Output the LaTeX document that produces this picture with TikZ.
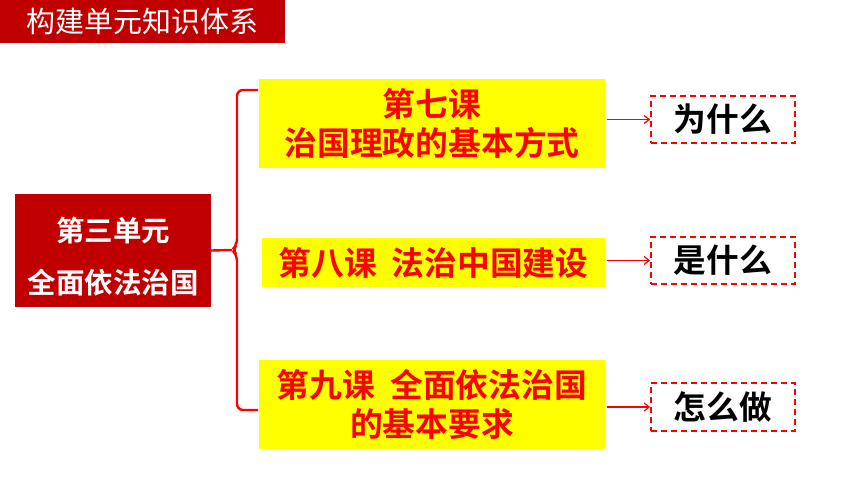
\documentclass[tikz,border=0pt]{standalone}
\usepackage{fontspec}
\usepackage{xcolor}
\usepackage{tikz}
\usetikzlibrary{arrows.meta}
\newfontfamily\cjk{Noto Sans CJK SC}[BoldFont={Noto Sans CJK SC Bold}]
\definecolor{bg}{HTML}{FFFFFF}
\definecolor{darkred}{HTML}{C00000}
\definecolor{hot}{HTML}{FF0000}
\definecolor{hilite}{HTML}{FFFF00}
\tikzset{
  titlebox/.style={fill=darkred, text=white, minimum width=285pt, minimum height=43pt, inner sep=0pt, font=\cjk\fontsize{29}{32}\selectfont},
  unitbox/.style={fill=darkred, text=white, minimum width=196pt, minimum height=113pt, inner sep=0pt, font=\cjk\bfseries\fontsize{28.5}{52}\selectfont},
  lessonbox/.style={fill=hilite, text=hot, minimum width=346pt, inner sep=0pt, align=center, font=\cjk\bfseries\fontsize{32.8}{39}\selectfont},
  askbox/.style={draw=hot, dash pattern=on 6pt off 4pt, line width=1.8pt, minimum width=144pt, minimum height=47pt, inner sep=0pt, font=\cjk\bfseries\fontsize{32.7}{34}\selectfont},
  brace/.style={draw=hot, line width=2.4pt, rounded corners=6pt},
  link/.style={draw=hot, line width=1.2pt, -{Straight Barb[length=5pt,width=8pt]}}
}
\begin{document}
\begin{tikzpicture}[x=1pt, y=-1pt]
  \useasboundingbox (0,0) rectangle (860,484);
  % heading
  \node[titlebox] (T) at (142.5,21.5) {构建单元知识体系};
  % unit
  \node[unitbox] (U) at (113,250.5) {\raisebox{-7pt}[\height][\depth]{\begin{tabular}{@{}c@{}}第三单元\\全面依法治国\end{tabular}}};
  % lessons
  \node[lessonbox, minimum height=89pt] (L1) at (432,123.5) {第七课\\治国理政的基本方式};
  \node[lessonbox, minimum width=343pt, minimum height=49pt] (L2) at (433.5,262.5) {第八课\ \ 法治中国建设};
  \node[lessonbox, minimum height=89pt] (L3) at (432,404.5) {第九课\ \ 全面依法治国\\的基本要求};
  % questions
  \node[askbox] (Q1) at (723,119.5) {为什么};
  \node[askbox] (Q2) at (723,260.5) {是什么};
  \node[askbox, minimum height=48pt] (Q3) at (723,407) {怎么做};
  % brace
  \coordinate (tip) at (232,250);
  \draw[brace] (258,90) -- (237,90) -- (237,245) -- (tip) -- (237,255) -- (237,410) -- (258,410);
  \draw[hot, line width=2.4pt] (U.east) -- (tip);
  \draw[link] ([xshift=2pt]Q1.west -| L1.east) -- (Q1.west);
  \draw[link] ([xshift=2pt]Q2.west -| L2.east) -- (Q2.west);
  \draw[link] ([xshift=2pt]Q3.west -| L3.east) -- (Q3.west);
\end{tikzpicture}
\end{document}
